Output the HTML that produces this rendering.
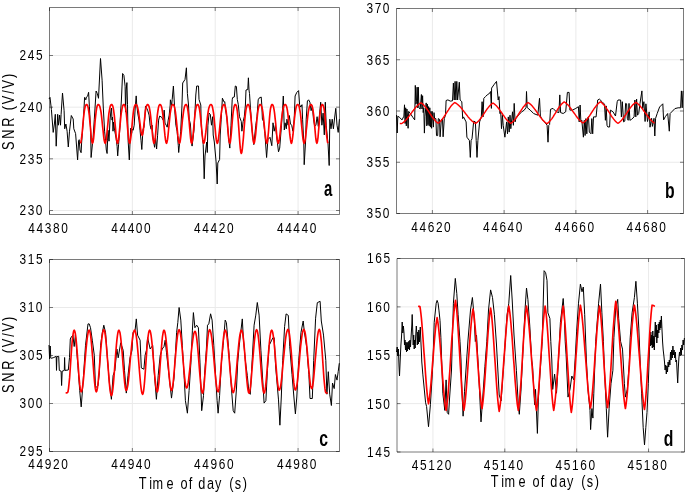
<!DOCTYPE html>
<html><head><meta charset="utf-8"><style>
html,body{margin:0;padding:0;background:#fff;overflow:hidden;width:685px;height:497px;}
svg{display:block;}
text{font-family:"Liberation Sans", sans-serif;fill:#000;}
svg{will-change:transform;}
</style></head><body>
<svg width="685" height="497" viewBox="0 0 685 497">
<rect width="685" height="497" fill="#fff"/>
<path d="M49.50 210.50H339.50M49.50 158.83H339.50M49.50 107.17H339.50M49.50 55.50H339.50M132.36 7.50V214.50M215.21 7.50V214.50M298.07 7.50V214.50" stroke="#eaeaea" stroke-width="1" fill="none"/>
<path d="M396.50 162.25H683.50M396.50 111.00H683.50M396.50 59.75H683.50M432.38 8.50V213.50M504.12 8.50V213.50M575.88 8.50V213.50M647.62 8.50V213.50" stroke="#eaeaea" stroke-width="1" fill="none"/>
<path d="M49.50 403.50H339.50M49.50 355.50H339.50M49.50 307.50H339.50M132.36 259.50V451.50M215.21 259.50V451.50M298.07 259.50V451.50" stroke="#eaeaea" stroke-width="1" fill="none"/>
<path d="M397.00 403.62H684.50M397.00 355.25H684.50M397.00 306.88H684.50M432.94 258.50V452.00M504.81 258.50V452.00M576.69 258.50V452.00M648.56 258.50V452.00" stroke="#eaeaea" stroke-width="1" fill="none"/>
<polyline points="49.0,99.0 50.0,97.4 51.4,109.5 53.2,132.4 54.4,124.0 55.3,114.3 56.2,146.2 57.7,114.3 58.4,125.2 59.6,115.0 60.5,125.2 61.1,114.3 62.5,93.0 64.1,110.7 64.7,128.8 65.9,124.0 67.1,131.2 68.3,147.0 69.5,131.2 71.3,115.5 73.2,119.0 73.8,128.8 75.6,133.6 77.6,159.9 78.6,140.9 79.2,139.7 80.0,150.0 81.1,152.7 81.6,143.0 83.4,119.2 84.6,97.4 85.8,99.8 86.4,97.0 87.6,96.2 88.6,92.3 89.4,106.8 90.7,131.2 91.1,157.5 93.1,137.3 94.3,119.2 96.1,91.0 97.3,93.5 98.5,98.3 100.5,58.5 102.1,80.2 103.3,108.0 104.6,131.2 105.5,140.0 106.3,150.0 107.1,153.5 107.6,140.2 108.0,130.2 109.0,141.2 110.0,120.1 111.0,110.1 111.5,108.0 112.0,120.1 112.5,117.1 113.0,131.2 113.6,122.1 114.6,130.2 116.1,138.2 117.1,146.3 117.7,155.9 118.6,144.3 119.1,138.2 120.1,125.2 120.6,112.1 121.4,100.0 122.6,73.5 123.9,75.4 125.1,86.2 125.6,112.1 126.2,90.0 126.9,82.6 127.5,104.3 128.1,140.2 129.3,159.9 130.2,138.2 130.7,128.2 131.7,133.2 132.2,129.2 133.2,130.2 134.2,125.2 135.2,108.0 136.2,95.9 136.7,104.0 137.7,113.1 139.0,120.1 140.0,130.2 141.0,140.2 141.8,149.5 143.0,129.2 144.0,127.2 145.0,115.1 145.5,106.0 146.6,108.0 147.6,110.1 149.1,115.1 150.1,125.2 151.1,129.2 152.1,125.2 153.1,138.2 154.1,144.3 154.6,147.3 155.6,138.2 156.6,149.0 157.6,135.2 158.6,120.1 159.6,116.1 161.6,117.1 163.2,120.1 164.2,110.1 165.0,123.1 166.2,125.2 167.2,127.2 168.2,120.1 169.2,115.1 170.2,105.0 170.4,99.8 171.6,105.9 172.2,99.4 173.4,86.0 174.7,109.5 175.9,125.2 177.1,131.2 178.3,145.7 178.7,152.5 180.7,131.2 181.9,107.1 182.7,83.0 185.0,79.5 186.4,67.8 187.4,93.5 188.5,105.0 189.2,119.2 190.4,124.0 191.6,143.3 192.1,146.1 194.0,130.0 195.2,107.1 195.8,95.0 196.7,86.0 198.5,86.0 199.0,99.4 200.8,105.0 201.2,125.2 203.2,144.3 204.2,178.8 205.0,156.0 206.7,142.0 207.3,152.5 207.9,125.2 209.1,113.1 210.3,114.3 211.5,125.2 212.7,116.7 213.2,135.0 214.3,142.0 216.1,161.9 217.2,184.0 217.8,163.0 219.6,159.5 220.2,135.0 221.2,119.2 222.4,98.2 224.2,102.2 224.8,101.7 225.4,109.5 226.8,116.7 228.6,138.5 229.8,148.1 231.0,125.2 232.2,99.8 232.6,97.6 234.3,97.0 235.3,86.0 236.4,86.5 237.3,99.4 238.3,104.7 239.5,116.7 241.3,121.6 241.9,131.2 243.1,121.6 244.3,116.7 245.4,105.0 246.0,90.0 247.8,89.5 248.4,77.8 249.0,90.0 249.5,93.5 250.4,107.1 252.2,131.2 253.8,144.6 255.8,125.2 257.0,116.7 258.2,99.8 259.0,98.2 261.2,97.0 261.8,105.0 262.4,119.2 263.6,121.6 264.9,133.6 266.6,157.5 267.9,139.7 270.0,137.3 271.8,145.7 273.0,122.8 274.2,131.2 275.4,125.2 277.2,140.9 278.5,151.8 279.7,148.1 281.5,125.2 282.7,107.1 283.3,96.0 284.3,130.0 285.1,122.8 286.3,128.8 286.9,119.2 288.1,125.2 289.3,115.5 290.5,124.0 291.7,125.2 292.9,131.2 294.2,119.2 295.1,96.0 296.8,92.4 298.6,90.6 299.6,104.7 300.8,107.1 302.0,104.7 302.6,119.2 303.8,143.3 304.2,164.7 305.6,140.9 306.2,119.2 307.4,101.0 308.6,99.8 309.9,102.2 311.1,110.7 312.3,105.9 313.5,119.2 314.7,126.4 315.9,125.2 317.1,116.7 318.3,126.4 319.5,114.3 320.7,102.2 321.9,125.2 323.1,113.1 324.3,134.9 325.3,102.2 326.2,125.2 328.0,143.3 329.2,165.5 329.8,119.2 331.0,128.8 332.2,119.2 333.4,128.8 334.6,118.0 335.8,108.3 337.0,125.2 338.2,132.4 339.4,119.2" stroke="#000" stroke-width="1" fill="none" stroke-linejoin="round"/>
<polyline points="80.4,143.3 80.9,142.2 81.4,139.2 82.0,134.7 82.5,129.2 83.0,123.5 83.5,118.1 84.0,113.4 84.5,109.8 85.0,107.3 85.6,105.6 86.1,104.8 86.6,104.5 87.1,104.8 87.7,105.9 88.2,107.9 88.7,111.0 89.3,115.4 89.8,121.0 90.4,127.1 90.9,133.3 91.4,138.5 92.0,142.1 92.5,143.3 93.0,142.1 93.6,138.5 94.1,133.3 94.6,127.1 95.1,121.0 95.7,115.4 96.2,111.0 96.7,107.9 97.2,105.9 97.8,104.8 98.3,104.5 98.8,104.7 99.4,105.5 99.9,106.8 100.4,108.9 101.0,111.9 101.5,115.8 102.0,120.5 102.5,125.7 103.1,131.0 103.6,135.9 104.1,139.8 104.7,142.4 105.2,143.3 105.7,142.2 106.3,139.2 106.8,134.7 107.3,129.2 107.9,123.5 108.4,118.1 108.9,113.4 109.5,109.8 110.0,107.3 110.5,105.6 111.1,104.8 111.6,104.5 112.1,104.8 112.7,105.9 113.2,107.9 113.7,111.0 114.3,115.4 114.8,121.0 115.4,127.1 115.9,133.3 116.4,138.5 117.0,142.1 117.5,143.3 118.0,142.2 118.6,139.2 119.1,134.7 119.6,129.2 120.2,123.5 120.7,118.1 121.2,113.4 121.8,109.8 122.3,107.3 122.8,105.6 123.4,104.8 123.9,104.5 124.4,104.8 124.9,105.9 125.5,107.9 126.0,111.0 126.5,115.4 127.0,121.0 127.5,127.1 128.0,133.3 128.6,138.5 129.1,142.1 129.6,143.3 130.1,142.2 130.6,139.2 131.2,134.7 131.7,129.2 132.2,123.5 132.7,118.1 133.2,113.4 133.7,109.8 134.2,107.3 134.8,105.6 135.3,104.8 135.8,104.5 136.3,104.7 136.9,105.4 137.4,106.7 137.9,108.7 138.5,111.6 139.0,115.3 139.5,119.6 140.1,124.1 140.6,128.5 141.1,132.1 141.7,134.5 142.2,135.3 142.7,134.1 143.3,130.8 143.8,125.9 144.4,120.5 144.9,115.3 145.4,111.0 146.0,107.8 146.5,105.8 147.1,104.8 147.6,104.5 148.1,104.7 148.6,105.5 149.1,106.8 149.6,108.9 150.1,111.9 150.6,115.8 151.1,120.5 151.6,125.7 152.1,131.0 152.6,135.9 153.1,139.8 153.6,142.4 154.1,143.3 154.6,142.1 155.2,138.5 155.7,133.3 156.2,127.1 156.8,121.0 157.3,115.4 157.9,111.0 158.4,107.9 158.9,105.9 159.5,104.8 160.0,104.5 160.5,104.7 161.0,105.5 161.5,106.8 162.0,108.9 162.5,111.9 163.0,115.8 163.5,120.5 164.0,125.7 164.5,131.0 165.0,135.9 165.5,139.8 166.0,142.4 166.5,143.3 167.0,142.2 167.6,139.2 168.1,134.7 168.6,129.2 169.2,123.5 169.7,118.1 170.2,113.4 170.8,109.8 171.3,107.3 171.8,105.6 172.4,104.8 172.9,104.5 173.4,104.7 173.9,105.5 174.4,106.8 174.9,108.9 175.4,111.9 175.9,115.8 176.4,120.5 176.9,125.7 177.4,131.0 177.9,135.9 178.4,139.8 178.9,142.4 179.4,143.3 179.9,142.4 180.4,139.8 180.9,135.9 181.4,131.0 181.9,125.7 182.4,120.5 183.0,115.8 183.5,111.9 184.0,108.9 184.5,106.8 185.0,105.5 185.5,104.7 186.0,104.5 186.5,104.8 187.0,105.9 187.5,107.9 188.0,111.0 188.5,115.4 189.1,121.0 189.6,127.1 190.1,133.3 190.6,138.5 191.1,142.1 191.6,143.3 192.1,142.2 192.6,139.2 193.1,134.7 193.6,129.2 194.1,123.5 194.6,118.1 195.1,113.4 195.6,109.8 196.1,107.3 196.6,105.6 197.1,104.8 197.6,104.5 198.1,104.8 198.6,105.6 199.1,107.3 199.6,109.8 200.1,113.4 200.6,118.1 201.2,123.5 201.7,129.2 202.2,134.7 202.7,139.2 203.2,142.2 203.7,143.3 204.2,142.5 204.7,140.3 205.2,136.8 205.8,132.4 206.3,127.6 206.8,122.7 207.3,118.1 207.8,114.1 208.3,110.8 208.8,108.2 209.4,106.5 209.9,105.3 210.4,104.7 210.9,104.5 211.4,104.8 212.0,105.6 212.5,107.3 213.0,109.8 213.6,113.4 214.1,118.1 214.6,123.5 215.2,129.2 215.7,134.7 216.2,139.2 216.8,142.2 217.3,143.3 217.8,142.4 218.3,139.8 218.8,135.9 219.4,131.0 219.9,125.7 220.4,120.5 220.9,115.8 221.4,111.9 221.9,108.9 222.5,106.8 223.0,105.5 223.5,104.7 224.0,104.5 224.5,104.8 225.1,105.9 225.6,107.9 226.1,111.0 226.6,115.4 227.2,121.0 227.7,127.1 228.2,133.3 228.7,138.5 229.3,142.1 229.8,143.3 230.3,142.1 230.8,138.5 231.3,133.3 231.8,127.1 232.3,121.0 232.8,115.4 233.3,111.0 233.8,107.9 234.3,105.9 234.8,104.8 235.3,104.5 235.8,104.8 236.3,105.9 236.8,108.0 237.3,111.2 237.8,115.8 238.3,121.7 238.8,128.5 239.3,135.7 239.8,142.6 240.3,148.4 240.8,152.2 241.3,153.5 241.8,152.4 242.3,149.1 242.8,144.1 243.4,137.9 243.9,131.3 244.4,124.7 244.9,118.8 245.4,113.9 245.9,110.1 246.5,107.4 247.0,105.7 247.5,104.8 248.0,104.5 248.5,104.8 249.0,105.6 249.5,107.3 250.0,109.8 250.5,113.4 251.0,118.1 251.5,123.5 252.0,129.2 252.5,134.7 253.0,139.2 253.5,142.2 254.0,143.3 254.5,142.2 255.0,139.2 255.6,134.7 256.1,129.2 256.6,123.5 257.1,118.1 257.6,113.4 258.1,109.8 258.6,107.3 259.2,105.6 259.7,104.8 260.2,104.5 260.7,104.7 261.2,105.5 261.7,106.8 262.3,108.9 262.8,111.9 263.3,115.8 263.8,120.5 264.3,125.7 264.8,131.0 265.4,135.9 265.9,139.8 266.4,142.4 266.9,143.3 267.4,141.8 267.9,137.6 268.5,131.5 269.0,124.6 269.5,118.1 270.0,112.6 270.5,108.7 271.1,106.2 271.6,104.9 272.1,104.5 272.6,104.8 273.1,105.6 273.6,107.3 274.1,109.8 274.6,113.4 275.1,118.1 275.7,123.5 276.2,129.2 276.7,134.7 277.2,139.2 277.7,142.2 278.2,143.3 278.7,142.5 279.2,140.3 279.7,136.8 280.2,132.4 280.7,127.6 281.2,122.7 281.7,118.1 282.2,114.1 282.7,110.8 283.2,108.2 283.7,106.5 284.2,105.3 284.7,104.7 285.2,104.5 285.7,104.8 286.2,105.6 286.8,107.3 287.3,109.8 287.8,113.4 288.3,118.1 288.8,123.5 289.3,129.2 289.8,134.7 290.4,139.2 290.9,142.2 291.4,143.3 291.9,142.2 292.4,139.2 293.0,134.7 293.5,129.2 294.0,123.5 294.5,118.1 295.1,113.4 295.6,109.8 296.1,107.3 296.6,105.6 297.2,104.8 297.7,104.5 298.2,104.8 298.8,105.6 299.3,107.3 299.8,109.8 300.4,113.4 300.9,118.1 301.4,123.5 302.0,129.2 302.5,134.7 303.0,139.2 303.6,142.2 304.1,143.3 304.6,142.4 305.2,139.8 305.7,135.9 306.2,131.0 306.8,125.7 307.3,120.5 307.8,115.8 308.3,111.9 308.9,108.9 309.4,106.8 309.9,105.5 310.5,104.7 311.0,104.5 311.5,104.8 312.1,105.9 312.6,107.9 313.1,111.0 313.7,115.4 314.2,121.0 314.8,127.1 315.3,133.3 315.8,138.5 316.4,142.1 316.9,143.3 317.4,141.8 318.0,137.6 318.5,131.5 319.1,124.6 319.6,118.1 320.1,112.6 320.7,108.7 321.2,106.2 321.8,104.9 322.3,104.5 322.8,104.8 323.3,105.9 323.9,107.9 324.4,111.0 324.9,115.4 325.4,121.0 325.9,127.1 326.4,133.3 327.0,138.5 327.5,142.1 328.0,143.3" stroke="#ff0000" stroke-width="1.65" fill="none" stroke-linejoin="round"/>
<polyline points="396.5,115.0 397.2,133.0 397.8,116.2 399.6,117.4 402.0,119.9 403.9,116.2 404.5,104.8 405.1,123.5 405.7,107.8 406.3,125.9 406.9,109.0 407.5,116.2 408.1,128.3 408.7,111.4 410.5,113.8 412.9,117.4 414.7,119.9 415.3,85.4 415.9,104.2 416.5,101.7 417.1,87.2 417.7,107.8 418.3,87.2 418.9,107.8 420.2,109.0 421.4,94.5 422.0,109.0 422.6,95.7 423.2,112.6 423.8,107.8 424.4,133.1 425.0,116.2 426.2,102.9 426.8,125.9 427.4,104.2 428.0,124.7 428.6,106.6 429.2,125.9 429.8,107.8 430.4,127.1 431.0,111.4 431.6,128.3 432.2,111.4 433.4,127.1 434.0,112.6 434.6,118.6 435.9,118.6 436.5,135.6 437.7,135.6 438.3,118.6 439.5,119.3 440.1,136.8 441.3,119.9 442.5,118.6 443.1,136.8 444.3,118.6 445.5,115.0 446.1,100.5 447.9,99.9 450.3,101.1 452.5,100.8 453.4,83.1 454.2,100.0 455.1,81.4 455.9,100.0 456.8,81.4 457.6,100.0 459.3,82.2 460.1,100.0 461.8,101.7 462.7,118.6 463.5,116.9 466.1,121.9 466.9,137.2 469.4,140.5 470.3,157.4 471.1,140.5 472.0,138.8 473.7,121.1 475.4,121.9 476.2,140.5 477.0,157.4 477.9,140.5 479.6,121.9 481.3,116.9 482.1,101.7 483.0,116.9 483.8,98.3 485.5,96.6 487.2,94.9 489.7,93.2 490.6,91.5 491.4,108.4 491.6,88.1 493.9,84.8 496.5,81.4 498.2,100.0 499.0,96.6 499.9,113.5 500.7,111.8 501.5,128.7 502.4,115.2 503.2,125.3 504.9,137.2 506.6,121.9 507.5,133.8 508.3,116.9 509.2,132.1 510.0,115.2 510.8,128.7 512.5,111.8 513.4,125.3 514.2,103.4 515.1,121.9 515.8,118.6 518.4,115.2 521.8,111.8 524.3,110.1 526.0,107.6 526.5,91.5 527.2,107.6 530.2,110.1 533.6,113.5 537.8,115.2 539.5,98.3 540.4,116.0 542.0,119.4 544.6,121.9 547.1,125.3 548.0,142.2 548.8,125.3 549.6,124.5 550.5,109.3 553.0,108.4 556.4,111.8 558.9,112.6 559.8,94.9 560.6,112.6 563.2,113.5 565.7,111.8 567.4,92.4 569.1,92.4 569.9,110.1 572.5,110.1 575.8,108.4 578.4,106.7 579.2,121.9 580.1,105.0 580.9,121.9 581.8,120.3 583.4,137.2 584.3,120.3 585.1,135.5 585.9,118.6 586.8,133.8 587.6,117.7 588.5,116.9 589.3,132.1 591.0,133.8 591.8,118.6 592.7,133.8 593.5,116.9 596.1,116.9 597.7,100.0 599.4,99.1 602.0,101.7 604.5,104.2 605.4,120.3 606.2,105.9 607.0,125.3 607.9,127.0 609.6,127.0 610.4,110.1 613.0,111.8 615.5,116.0 617.2,101.7 618.0,100.0 620.6,100.0 621.4,116.9 622.3,101.7 623.6,121.9 624.8,121.1 625.6,103.4 626.6,103.8 627.3,118.3 628.2,120.3 629.0,103.4 629.9,120.3 631.5,119.4 634.1,116.9 634.9,100.0 635.8,116.9 636.6,99.1 637.5,115.2 638.7,113.5 640.0,103.4 641.9,90.9 642.7,108.6 643.9,101.7 645.1,121.5 645.9,103.8 647.5,121.5 649.2,111.9 650.0,127.2 651.6,118.3 652.4,126.4 654.0,118.3 654.8,136.0 655.6,118.3 657.2,113.5 659.6,107.0 662.8,103.8 663.6,119.9 665.3,116.7 667.7,113.5 669.3,131.2 670.1,113.5 671.7,111.9 674.9,108.6 678.1,107.8 680.6,107.8 681.4,90.9 682.2,107.8 683.0,90.9" stroke="#000" stroke-width="1" fill="none" stroke-linejoin="round"/>
<polyline points="399.8,123.5 400.4,123.5 400.9,123.6 401.5,123.6 402.0,123.3 402.5,123.0 403.0,122.6 403.5,122.3 404.0,121.9 404.5,121.4 405.0,120.9 405.5,120.4 406.0,119.9 406.5,119.3 407.0,118.8 407.5,118.2 408.0,117.5 408.5,116.9 409.0,116.2 409.5,115.6 410.0,114.9 410.5,114.2 411.0,113.5 411.5,112.9 412.0,112.2 412.5,111.5 413.0,110.8 413.5,110.2 414.0,109.5 414.5,108.9 415.0,108.2 415.5,107.6 416.0,107.1 416.5,106.5 417.0,106.0 417.5,105.5 418.0,105.0 418.5,104.5 419.0,104.1 419.5,103.8 420.0,103.4 420.5,103.1 421.0,102.8 421.5,103.1 422.0,103.5 422.5,103.9 423.0,104.3 423.5,104.8 424.0,105.4 424.5,105.9 425.0,106.5 425.6,107.2 426.1,107.8 426.6,108.5 427.1,109.2 427.6,110.0 428.1,110.7 428.6,111.5 429.1,112.2 429.6,113.0 430.1,113.8 430.6,114.5 431.1,115.3 431.6,116.0 432.1,116.8 432.6,117.5 433.1,118.2 433.6,118.8 434.2,119.5 434.7,120.1 435.2,120.6 435.7,121.2 436.2,121.7 436.7,122.1 437.2,122.5 437.7,122.9 438.2,123.2 438.7,122.9 439.2,122.5 439.7,122.0 440.2,121.6 440.7,121.1 441.2,120.5 441.7,119.9 442.2,119.3 442.7,118.6 443.2,117.9 443.7,117.2 444.2,116.4 444.7,115.6 445.2,114.9 445.7,114.1 446.2,113.3 446.8,112.4 447.3,111.6 447.8,110.8 448.3,110.1 448.8,109.3 449.3,108.5 449.8,107.8 450.3,107.1 450.8,106.4 451.3,105.8 451.8,105.2 452.3,104.6 452.8,104.1 453.3,103.7 453.8,103.2 454.3,102.8 454.8,102.5 455.3,102.8 455.8,103.1 456.3,103.4 456.8,103.8 457.3,104.2 457.8,104.6 458.3,105.0 458.8,105.5 459.3,106.0 459.8,106.5 460.4,107.1 460.9,107.6 461.4,108.2 461.9,108.8 462.4,109.4 462.9,110.1 463.4,110.7 463.9,111.4 464.4,112.0 464.9,112.7 465.4,113.3 465.9,114.0 466.4,114.6 466.9,115.3 467.4,115.9 467.9,116.6 468.4,117.2 468.9,117.8 469.4,118.4 469.9,118.9 470.5,119.5 471.0,120.0 471.5,120.5 472.0,121.0 472.5,121.4 473.0,121.8 473.5,122.2 474.0,122.6 474.5,122.9 475.0,123.2 475.5,123.5 476.0,123.2 476.5,122.8 477.0,122.4 477.5,122.0 478.0,121.5 478.5,121.0 479.0,120.5 479.5,119.9 480.0,119.3 480.5,118.6 481.0,118.0 481.5,117.3 482.0,116.6 482.5,115.9 483.0,115.1 483.5,114.4 484.0,113.6 484.5,112.9 485.0,112.1 485.5,111.4 486.0,110.6 486.5,109.9 487.0,109.2 487.5,108.5 488.0,107.9 488.5,107.2 489.0,106.6 489.5,106.0 490.0,105.5 490.5,105.0 491.0,104.5 491.5,104.1 492.0,103.7 492.5,103.3 493.0,103.0 493.5,103.3 494.0,103.7 494.5,104.1 495.0,104.5 495.5,105.0 496.1,105.5 496.6,106.0 497.1,106.6 497.6,107.2 498.1,107.8 498.6,108.5 499.1,109.2 499.6,109.9 500.1,110.6 500.6,111.3 501.1,112.0 501.6,112.8 502.2,113.5 502.7,114.3 503.2,115.0 503.7,115.7 504.2,116.4 504.7,117.1 505.2,117.8 505.7,118.5 506.2,119.1 506.7,119.7 507.2,120.3 507.7,120.8 508.3,121.3 508.8,121.8 509.3,122.2 509.8,122.6 510.3,123.0 510.8,123.3 511.3,123.0 511.8,122.6 512.3,122.2 512.8,121.7 513.3,121.2 513.8,120.7 514.3,120.1 514.8,119.5 515.4,118.9 515.9,118.2 516.4,117.5 516.9,116.7 517.4,116.0 517.9,115.2 518.4,114.5 518.9,113.7 519.4,112.9 519.9,112.1 520.4,111.3 520.9,110.6 521.4,109.8 521.9,109.1 522.4,108.3 522.9,107.6 523.4,106.9 524.0,106.3 524.5,105.7 525.0,105.1 525.5,104.6 526.0,104.1 526.5,103.6 527.0,103.2 527.5,102.8 528.0,102.5 528.5,102.8 529.0,103.1 529.5,103.5 530.0,103.9 530.5,104.3 531.0,104.8 531.5,105.3 532.0,105.8 532.5,106.4 533.0,107.0 533.5,107.6 534.0,108.2 534.5,108.9 535.0,109.5 535.5,110.2 536.0,110.9 536.5,111.6 537.0,112.3 537.5,113.0 538.0,113.8 538.5,114.5 539.0,115.2 539.5,115.9 540.0,116.6 540.5,117.2 541.0,117.9 541.5,118.5 542.0,119.1 542.5,119.7 543.0,120.3 543.5,120.8 544.0,121.3 544.5,121.8 545.0,122.2 545.5,122.6 546.0,123.0 546.5,123.3 547.0,123.6 547.5,123.3 548.0,122.9 548.5,122.4 549.0,122.0 549.5,121.4 550.0,120.9 550.5,120.3 551.0,119.6 551.6,119.0 552.1,118.3 552.6,117.5 553.1,116.8 553.6,116.0 554.1,115.2 554.6,114.4 555.1,113.6 555.6,112.8 556.1,111.9 556.6,111.1 557.1,110.3 557.6,109.5 558.1,108.7 558.6,108.0 559.1,107.2 559.6,106.5 560.2,105.9 560.7,105.2 561.2,104.6 561.7,104.1 562.2,103.5 562.7,103.1 563.2,102.6 563.7,102.2 564.2,101.9 564.7,102.2 565.2,102.5 565.7,102.9 566.2,103.3 566.7,103.8 567.2,104.3 567.8,104.8 568.3,105.3 568.8,105.9 569.3,106.5 569.8,107.1 570.3,107.8 570.8,108.5 571.3,109.2 571.8,109.9 572.3,110.6 572.8,111.3 573.3,112.0 573.9,112.8 574.4,113.5 574.9,114.2 575.4,114.9 575.9,115.6 576.4,116.3 576.9,117.0 577.4,117.7 577.9,118.3 578.4,118.9 578.9,119.5 579.4,120.0 580.0,120.5 580.5,121.0 581.0,121.5 581.5,121.9 582.0,122.3 582.5,122.6 583.0,122.9 583.5,122.6 584.0,122.2 584.5,121.8 585.0,121.4 585.5,120.9 586.0,120.3 586.5,119.8 587.0,119.2 587.5,118.6 588.0,117.9 588.5,117.2 589.0,116.5 589.5,115.8 590.0,115.0 590.5,114.3 591.0,113.5 591.5,112.7 592.0,112.0 592.5,111.2 593.0,110.4 593.5,109.7 594.0,108.9 594.5,108.2 595.0,107.5 595.5,106.8 596.0,106.1 596.5,105.5 597.0,104.9 597.5,104.4 598.0,103.8 598.5,103.3 599.0,102.9 599.5,102.5 600.0,102.1 600.5,101.8 601.0,102.1 601.5,102.5 602.0,102.9 602.5,103.4 603.0,103.9 603.5,104.4 604.0,105.0 604.5,105.6 605.0,106.2 605.5,106.9 606.0,107.6 606.5,108.3 607.0,109.1 607.5,109.8 608.0,110.6 608.5,111.4 609.0,112.2 609.5,112.9 610.0,113.7 610.5,114.5 611.0,115.3 611.5,116.0 612.0,116.8 612.5,117.5 613.0,118.2 613.5,118.9 614.0,119.5 614.5,120.1 615.0,120.7 615.5,121.2 616.0,121.7 616.5,122.2 617.0,122.6 617.5,123.0 618.0,123.3 618.5,123.0 619.0,122.6 619.5,122.2 620.0,121.8 620.5,121.3 621.1,120.8 621.6,120.2 622.1,119.6 622.6,119.0 623.1,118.3 623.6,117.7 624.1,117.0 624.6,116.2 625.1,115.5 625.6,114.8 626.1,114.0 626.6,113.2 627.2,112.5 627.7,111.7 628.2,110.9 628.7,110.2 629.2,109.5 629.7,108.7 630.2,108.0 630.7,107.4 631.2,106.7 631.7,106.1 632.2,105.5 632.7,104.9 633.3,104.4 633.8,103.9 634.3,103.5 634.8,103.1 635.3,102.7 635.8,102.4 636.3,102.7 636.8,103.0 637.3,103.4 637.8,103.8 638.3,104.3 638.8,104.7 639.4,105.2 639.9,105.8 640.4,106.4 640.9,107.0 641.4,107.6 641.9,108.2 642.4,108.9 642.9,109.6 643.4,110.3 643.9,111.0 644.4,111.7 644.9,112.4 645.5,113.1 646.0,113.8 646.5,114.5 647.0,115.2 647.5,115.9 648.0,116.6 648.5,117.3 649.0,117.9 649.5,118.5 650.0,119.1 650.5,119.7 651.0,120.3 651.6,120.8 652.1,121.2 652.6,121.7 653.1,122.1 653.6,122.5 654.1,122.8 654.6,123.1" stroke="#ff0000" stroke-width="1.45" fill="none" stroke-linejoin="round"/>
<polyline points="49.0,345.0 49.6,359.0 50.2,346.0 50.8,358.0 51.4,358.3 53.8,357.5 56.2,356.3 56.5,370.4 56.9,356.7 58.7,356.3 59.3,370.4 61.1,371.2 61.6,385.5 62.2,371.2 64.3,370.4 64.6,357.5 65.0,370.4 68.3,370.0 69.5,357.5 70.3,339.0 71.5,336.6 72.9,335.2 74.2,346.5 75.4,335.2 77.9,365.4 79.7,390.5 81.2,406.9 83.0,383.0 85.5,345.3 88.0,323.9 89.2,323.9 90.5,327.7 92.3,340.2 94.3,355.3 95.5,388.0 98.0,385.5 99.3,372.9 100.6,345.3 102.3,332.7 103.8,325.2 105.6,332.7 107.4,357.8 109.4,383.0 111.4,399.3 113.1,375.5 114.9,370.4 116.9,349.0 118.2,357.8 120.7,342.8 123.2,350.3 124.5,370.4 126.3,393.1 128.0,375.5 130.0,357.8 132.0,350.3 133.0,332.7 135.1,330.2 136.3,318.9 137.6,335.2 140.1,340.2 141.3,367.9 143.9,369.2 145.1,355.3 146.4,350.3 147.6,337.7 150.2,349.0 152.7,345.3 153.9,367.9 156.4,399.3 158.2,375.5 160.2,355.3 162.2,349.0 164.0,346.5 165.2,340.2 166.5,352.8 169.0,375.5 171.5,398.1 174.0,378.0 176.6,332.7 177.8,322.6 179.1,307.5 180.8,320.1 182.3,345.3 184.1,375.5 185.4,400.6 187.4,413.2 189.1,390.5 190.9,362.9 192.4,330.2 193.4,312.6 194.9,327.7 196.7,325.2 198.4,327.7 200.0,362.9 201.7,410.7 203.5,395.6 204.5,375.5 206.3,350.3 207.5,325.2 208.8,323.9 210.6,313.8 212.1,320.1 213.8,345.3 215.6,375.5 217.1,400.6 218.1,413.2 219.6,395.6 221.4,362.9 223.1,345.3 225.2,320.1 226.4,322.6 227.7,337.7 229.7,362.9 231.4,388.0 233.2,410.7 234.7,413.2 236.5,388.0 237.7,362.9 239.0,347.8 240.7,332.7 242.3,318.9 243.3,337.7 245.3,360.4 247.3,375.5 249.0,393.1 250.3,394.3 252.3,357.8 254.1,325.2 255.8,315.1 257.3,302.5 259.1,315.1 260.9,350.3 262.9,383.0 264.1,403.1 265.9,400.6 267.4,370.4 269.2,345.3 271.7,340.2 272.8,337.9 274.2,337.7 275.6,366.0 278.5,399.9 279.9,425.2 281.3,397.0 282.7,360.4 284.6,326.6 286.1,313.9 288.3,315.4 289.7,346.3 292.0,374.5 293.9,397.0 295.4,413.9 296.8,397.0 298.7,360.4 301.0,332.3 303.2,321.0 304.4,332.3 306.6,346.3 308.9,374.5 310.0,398.5 312.3,398.5 313.7,360.4 315.6,318.2 317.3,302.7 320.1,301.3 321.3,321.0 323.5,335.1 325.8,360.4 326.9,394.2 328.3,371.7 329.7,394.2 331.4,405.5 332.5,383.0 334.2,388.6 335.4,374.5 337.0,380.1 338.2,371.7 339.3,363.2" stroke="#000" stroke-width="1" fill="none" stroke-linejoin="round"/>
<polyline points="65.6,393.0 66.2,392.9 66.9,392.7 67.5,392.6 68.0,391.6 68.5,388.6 69.0,383.9 69.6,377.9 70.1,370.8 70.6,363.3 71.1,355.8 71.6,348.7 72.1,342.4 72.7,337.2 73.2,333.4 73.7,331.0 74.2,330.2 74.7,330.9 75.2,332.9 75.7,336.2 76.2,340.7 76.7,346.1 77.2,352.4 77.7,359.2 78.2,366.1 78.7,372.9 79.2,379.1 79.7,384.4 80.2,388.4 80.7,390.9 81.2,391.8 81.7,391.1 82.2,389.2 82.7,386.0 83.2,381.9 83.7,376.8 84.2,371.2 84.7,365.2 85.2,359.2 85.7,353.2 86.2,347.6 86.7,342.6 87.2,338.3 87.7,334.8 88.2,332.3 88.7,330.7 89.2,330.2 89.7,330.9 90.2,332.9 90.7,336.2 91.2,340.7 91.7,346.1 92.2,352.4 92.8,359.2 93.3,366.1 93.8,372.9 94.3,379.1 94.8,384.4 95.3,388.4 95.8,390.9 96.3,391.8 96.8,391.0 97.3,388.8 97.8,385.2 98.3,380.5 98.8,374.9 99.3,368.7 99.8,362.2 100.3,355.7 100.8,349.5 101.3,343.8 101.8,338.9 102.3,335.0 102.8,332.1 103.3,330.3 103.8,329.7 104.3,330.3 104.8,332.2 105.3,335.3 105.8,339.5 106.3,344.7 106.8,350.7 107.3,357.3 107.9,364.1 108.4,371.0 108.9,377.6 109.4,383.6 109.9,388.6 110.4,392.4 110.9,394.8 111.4,395.6 111.9,394.8 112.4,392.4 112.9,388.7 113.4,383.7 113.9,377.8 114.4,371.2 114.9,364.4 115.4,357.5 115.9,351.0 116.4,345.1 116.9,339.9 117.4,335.8 117.9,332.7 118.4,330.8 118.9,330.2 119.4,330.9 120.0,332.8 120.5,336.1 121.0,340.4 121.5,345.8 122.1,351.9 122.6,358.5 123.1,365.3 123.7,372.0 124.2,378.0 124.7,383.2 125.2,387.2 125.8,389.7 126.3,390.5 126.8,389.9 127.3,387.9 127.9,384.9 128.4,380.8 128.9,375.8 129.4,370.3 129.9,364.5 130.4,358.5 131.0,352.7 131.5,347.3 132.0,342.3 132.5,338.1 133.0,334.7 133.6,332.2 134.1,330.7 134.6,330.2 135.1,330.7 135.6,332.4 136.1,335.0 136.6,338.6 137.1,343.1 137.6,348.3 138.1,354.1 138.6,360.3 139.1,366.7 139.6,372.9 140.1,378.7 140.6,384.0 141.1,388.3 141.6,391.6 142.1,393.6 142.6,394.3 143.1,393.4 143.6,390.8 144.1,386.6 144.6,381.1 145.1,374.6 145.6,367.6 146.1,360.3 146.6,353.3 147.1,346.8 147.6,341.1 148.1,336.4 148.6,333.0 149.1,330.9 149.6,330.2 150.1,330.8 150.6,332.6 151.1,335.4 151.6,339.4 152.1,344.2 152.6,349.8 153.1,356.0 153.7,362.4 154.2,368.8 154.7,375.0 155.2,380.6 155.7,385.3 156.2,388.8 156.7,391.0 157.2,391.8 157.7,390.8 158.2,387.9 158.8,383.2 159.3,377.2 159.8,370.3 160.3,362.9 160.9,355.5 161.4,348.5 161.9,342.3 162.4,337.1 163.0,333.3 163.5,331.0 164.0,330.2 164.5,330.8 165.0,332.5 165.5,335.3 166.0,339.2 166.5,343.9 167.0,349.4 167.5,355.4 168.0,361.7 168.5,368.0 169.0,374.1 169.5,379.5 170.0,384.1 170.5,387.6 171.0,389.8 171.5,390.5 172.0,389.8 172.5,387.6 173.0,384.1 173.5,379.4 174.0,373.9 174.5,367.8 175.0,361.5 175.6,355.1 176.1,349.1 176.6,343.5 177.1,338.8 177.6,334.9 178.1,332.0 178.6,330.3 179.1,329.7 179.6,330.3 180.1,331.9 180.6,334.7 181.1,338.4 181.6,343.0 182.1,348.3 182.6,354.1 183.1,360.2 183.6,366.3 184.1,372.1 184.6,377.4 185.1,381.8 185.6,385.2 186.1,387.3 186.6,388.0 187.1,387.4 187.7,385.6 188.2,382.7 188.7,378.9 189.2,374.2 189.8,369.1 190.3,363.6 190.8,358.0 191.3,352.5 191.8,347.4 192.4,342.8 192.9,338.8 193.4,335.6 193.9,333.3 194.5,331.9 195.0,331.4 195.5,332.0 196.0,333.8 196.5,336.7 197.0,340.6 197.5,345.4 198.0,351.0 198.5,357.2 199.0,363.6 199.5,370.1 200.0,376.3 200.5,381.9 201.0,386.6 201.5,390.1 202.0,392.3 202.5,393.1 203.0,392.2 203.5,389.6 204.0,385.4 204.5,380.0 205.0,373.6 205.5,366.6 206.1,359.5 206.6,352.5 207.1,346.1 207.6,340.5 208.1,335.9 208.6,332.5 209.1,330.4 209.6,329.7 210.1,330.2 210.6,331.6 211.1,333.8 211.6,337.0 212.1,340.9 212.6,345.4 213.1,350.5 213.6,356.0 214.1,361.8 214.6,367.5 215.1,373.1 215.6,378.3 216.1,382.9 216.6,386.6 217.1,389.5 217.6,391.2 218.1,391.8 218.6,390.9 219.1,388.4 219.6,384.4 220.1,379.1 220.6,372.9 221.1,366.1 221.6,359.2 222.2,352.4 222.7,346.1 223.2,340.7 223.7,336.2 224.2,332.9 224.7,330.9 225.2,330.2 225.7,330.7 226.2,332.3 226.7,334.9 227.2,338.4 227.7,342.8 228.2,347.9 228.7,353.5 229.2,359.5 229.7,365.7 230.2,371.7 230.7,377.4 231.2,382.5 231.7,386.8 232.2,390.0 232.7,391.9 233.2,392.6 233.7,391.9 234.2,390.0 234.8,386.8 235.3,382.5 235.8,377.4 236.3,371.7 236.8,365.7 237.3,359.5 237.9,353.5 238.4,347.9 238.9,342.8 239.4,338.4 239.9,334.9 240.5,332.3 241.0,330.7 241.5,330.2 242.0,330.8 242.5,332.6 243.0,335.6 243.5,339.6 244.0,344.5 244.5,350.2 245.0,356.5 245.5,363.1 246.0,369.7 246.5,376.0 247.0,381.7 247.5,386.4 248.0,390.1 248.5,392.3 249.0,393.1 249.5,392.3 250.0,390.0 250.5,386.4 251.0,381.6 251.5,375.8 252.0,369.5 252.5,362.8 253.1,356.2 253.6,349.9 254.1,344.1 254.6,339.1 255.1,335.1 255.6,332.1 256.1,330.3 256.6,329.7 257.1,330.3 257.6,332.1 258.1,335.1 258.6,339.1 259.1,344.1 259.6,349.9 260.1,356.2 260.6,362.8 261.1,369.5 261.6,375.8 262.1,381.6 262.6,386.4 263.1,390.0 263.6,392.3 264.1,393.1 264.6,392.3 265.1,390.1 265.6,386.4 266.1,381.7 266.6,376.0 267.1,369.7 267.6,363.1 268.2,356.5 268.7,350.2 269.2,344.5 269.7,339.6 270.2,335.6 270.7,332.6 271.2,330.8 271.7,330.2 272.2,330.8 272.7,332.5 273.2,335.3 273.7,339.1 274.2,343.8 274.7,349.3 275.2,355.3 275.7,361.6 276.2,367.8 276.7,373.8 277.2,379.3 277.7,383.8 278.2,387.3 278.7,389.5 279.2,390.2 279.7,389.6 280.2,387.9 280.8,385.1 281.3,381.4 281.8,377.0 282.3,371.9 282.8,366.4 283.3,360.8 283.9,355.2 284.4,349.8 284.9,344.8 285.4,340.3 285.9,336.5 286.4,333.4 287.0,331.2 287.5,329.9 288.0,329.4 288.5,330.1 289.1,332.1 289.6,335.3 290.1,339.7 290.6,345.1 291.2,351.2 291.7,357.9 292.2,364.7 292.8,371.4 293.3,377.5 293.8,382.7 294.3,386.7 294.9,389.2 295.4,390.0 295.9,389.3 296.4,387.4 297.0,384.3 297.5,380.2 298.0,375.3 298.6,369.7 299.1,363.9 299.6,357.9 300.1,352.0 300.6,346.6 301.2,341.6 301.7,337.4 302.2,333.9 302.8,331.4 303.3,329.9 303.8,329.4 304.3,330.0 304.9,331.7 305.4,334.4 305.9,338.2 306.4,342.9 307.0,348.2 307.5,354.1 308.0,360.3 308.5,366.5 309.1,372.5 309.6,377.8 310.1,382.3 310.6,385.7 311.2,387.9 311.7,388.6 312.2,387.9 312.7,385.7 313.2,382.3 313.7,377.8 314.2,372.5 314.7,366.5 315.2,360.3 315.8,354.1 316.3,348.2 316.8,342.9 317.3,338.2 317.8,334.4 318.3,331.7 318.8,330.0 319.3,329.4 319.8,330.2 320.3,332.6 320.8,336.6 321.4,341.8 321.9,348.3 322.4,355.5 322.9,363.2 323.4,370.8 323.9,378.0 324.5,384.2 325.0,388.9 325.5,392.0 326.0,393.0 326.6,393.0 327.1,393.0 327.7,393.0" stroke="#ff0000" stroke-width="1.65" fill="none" stroke-linejoin="round"/>
<polyline points="396.5,352.0 397.2,347.0 397.8,356.0 398.4,349.0 399.0,366.0 399.5,376.0 400.2,360.0 400.9,345.0 401.5,337.0 402.2,322.0 402.8,333.0 403.4,326.0 404.0,333.0 404.5,345.0 405.0,340.0 405.5,350.0 406.0,342.0 406.5,352.0 407.0,343.0 407.5,351.0 408.0,342.0 408.5,349.0 409.0,341.0 409.5,350.0 410.0,340.0 410.5,347.0 411.2,335.0 411.8,325.0 412.2,314.5 412.7,330.0 413.2,345.0 413.7,335.0 414.2,349.0 414.7,340.0 415.2,348.0 415.7,336.0 416.3,326.0 416.8,333.0 417.3,345.0 417.8,332.0 418.3,344.0 418.8,330.0 419.3,342.0 419.8,334.0 420.3,327.0 420.8,340.0 421.3,350.0 421.8,362.0 422.8,374.1 425.6,402.8 426.6,406.6 428.5,426.7 430.4,404.7 432.3,374.1 433.2,355.0 434.2,322.4 436.2,303.2 437.1,300.4 438.1,303.2 439.0,310.9 440.0,320.4 440.9,337.7 442.8,393.2 444.8,410.4 446.1,379.9 447.2,412.4 448.6,414.3 449.5,399.0 451.5,370.0 453.4,303.2 455.3,278.4 456.8,293.7 458.1,314.7 460.0,341.5 461.0,360.0 462.0,393.2 463.1,416.2 464.5,391.3 468.0,340.0 470.5,310.0 472.4,297.5 474.0,315.0 475.3,341.5 476.5,335.0 478.5,370.0 481.0,421.9 482.0,408.0 484.9,366.5 486.8,341.5 488.5,310.0 490.6,289.9 492.5,297.5 494.4,314.7 496.5,345.0 499.2,395.0 501.1,400.9 503.0,374.1 505.0,345.0 507.0,315.0 508.8,303.2 510.7,275.5 512.2,300.0 514.0,335.0 516.4,370.3 518.3,405.0 519.3,414.3 521.0,390.0 523.0,350.0 525.0,310.0 526.5,288.0 527.9,299.4 529.8,326.2 531.7,360.0 532.6,366.5 534.6,404.7 535.5,389.4 537.4,433.4 538.4,399.0 539.3,383.7 541.3,355.0 542.2,341.5 544.1,270.7 545.6,272.6 547.0,280.3 547.9,312.8 549.9,318.5 550.8,341.5 551.8,360.0 552.7,389.4 554.6,374.1 556.5,393.2 558.5,360.0 560.4,322.4 563.2,298.5 564.2,312.8 565.2,341.5 566.1,354.9 568.0,397.1 570.0,389.4 571.8,376.0 573.8,379.9 575.1,360.0 576.6,331.9 578.5,303.2 580.4,284.1 582.0,291.8 583.3,287.0 584.7,314.7 586.4,360.0 588.0,390.0 590.0,410.4 590.6,429.6 591.9,408.5 592.9,418.1 593.8,393.2 595.7,341.5 598.6,303.2 600.5,284.1 601.9,312.8 603.4,341.5 604.3,366.5 606.3,408.5 607.6,437.2 609.1,408.5 611.0,383.7 612.9,370.3 613.9,337.7 615.8,307.1 617.7,299.4 618.7,318.5 620.6,341.5 622.5,349.1 624.4,383.7 625.4,397.1 627.3,389.4 629.2,364.6 630.2,337.7 632.1,312.8 634.4,297.5 635.9,281.3 637.4,303.2 638.8,328.1 640.1,360.0 641.6,393.2 643.2,427.7 644.5,444.9 645.8,427.7 647.0,412.4 648.3,383.7 649.3,355.0 649.8,338.0 650.3,346.0 650.8,332.0 651.3,345.0 651.8,335.0 652.3,348.0 652.8,331.0 653.3,347.0 653.8,336.0 654.3,350.0 654.8,333.0 655.3,322.0 655.8,337.0 656.3,325.0 656.8,343.0 657.3,330.0 657.8,338.0 658.3,324.0 658.8,333.0 659.3,322.0 659.8,330.0 660.3,320.0 660.8,328.0 661.4,316.0 662.0,330.0 662.6,342.0 663.2,350.0 663.9,356.0 664.5,362.0 665.1,370.0 665.7,365.0 666.3,374.0 666.9,366.0 667.5,372.0 668.1,362.0 668.7,367.0 669.3,360.0 669.9,365.0 670.5,352.0 671.1,360.0 671.7,350.0 672.3,358.0 672.9,346.0 673.5,355.0 674.1,350.0 674.7,358.0 675.3,352.0 675.9,362.0 676.5,360.0 677.1,372.0 677.7,383.0 678.3,368.0 678.9,358.0 679.5,352.0 680.1,356.0 680.7,348.0 681.3,355.0 681.9,345.0 682.5,350.0 683.1,340.0 683.7,345.0 684.4,338.0" stroke="#000" stroke-width="1" fill="none" stroke-linejoin="round"/>
<polyline points="418.1,306.3 418.7,306.4 419.3,306.4 419.9,306.5 420.4,309.5 420.9,313.5 421.4,318.2 421.9,323.8 422.4,330.0 422.9,336.8 423.4,344.0 423.9,351.4 424.5,358.9 425.0,366.3 425.5,373.5 426.0,380.3 426.5,386.5 427.0,392.1 427.5,396.8 428.0,400.8 428.5,403.8 429.0,401.1 429.5,397.6 430.0,393.4 430.5,388.5 431.0,383.0 431.5,377.0 432.0,370.6 432.5,364.0 433.1,357.4 433.6,350.8 434.1,344.4 434.6,338.4 435.1,332.9 435.6,328.0 436.1,323.8 436.6,320.3 437.1,317.6 437.6,320.3 438.1,323.8 438.6,328.0 439.1,332.9 439.6,338.3 440.1,344.3 440.6,350.6 441.1,357.2 441.6,364.0 442.1,370.8 442.6,377.4 443.1,383.7 443.6,389.7 444.1,395.1 444.6,400.0 445.1,404.2 445.6,407.7 446.1,410.4 446.6,407.2 447.1,403.1 447.7,398.1 448.2,392.3 448.7,385.8 449.2,378.8 449.8,371.2 450.3,363.4 450.8,355.4 451.3,347.4 451.8,339.6 452.4,332.0 452.9,325.0 453.4,318.5 453.9,312.7 454.5,307.7 455.0,303.6 455.5,300.4 456.0,304.1 456.6,308.9 457.1,314.8 457.6,321.6 458.1,329.3 458.6,337.6 459.2,346.4 459.7,355.4 460.2,364.4 460.8,373.2 461.3,381.5 461.8,389.2 462.3,396.0 462.8,401.9 463.4,406.7 463.9,410.4 464.4,407.4 464.9,403.6 465.4,399.1 465.9,393.7 466.4,387.8 466.9,381.2 467.4,374.3 467.9,367.1 468.4,359.7 469.0,352.3 469.5,345.1 470.0,338.2 470.5,331.6 471.0,325.7 471.5,320.3 472.0,315.8 472.5,312.0 473.0,309.0 473.5,311.9 474.0,315.6 474.5,320.1 475.0,325.4 475.5,331.2 476.0,337.6 476.5,344.4 477.0,351.5 477.5,358.8 478.0,366.0 478.5,373.1 479.0,379.9 479.5,386.3 480.0,392.1 480.5,397.4 481.0,401.9 481.5,405.6 482.0,408.5 482.5,405.4 483.0,401.3 483.5,396.4 484.0,390.6 484.5,384.2 485.0,377.2 485.5,369.8 486.0,362.1 486.6,354.4 487.1,346.7 487.6,339.3 488.1,332.3 488.6,325.9 489.1,320.1 489.6,315.2 490.1,311.1 490.6,308.0 491.1,311.2 491.6,315.4 492.1,320.5 492.6,326.4 493.1,333.0 493.6,340.2 494.1,347.8 494.6,355.7 495.2,363.7 495.7,371.6 496.2,379.2 496.7,386.4 497.2,393.0 497.7,398.9 498.2,404.0 498.7,408.2 499.2,411.4 499.7,408.5 500.2,404.8 500.7,400.4 501.2,395.3 501.7,389.6 502.2,383.3 502.7,376.6 503.2,369.6 503.7,362.4 504.3,355.1 504.8,347.9 505.3,340.9 505.8,334.2 506.3,327.9 506.8,322.2 507.3,317.1 507.8,312.7 508.3,309.0 508.8,306.1 509.3,309.1 509.9,313.0 510.4,317.8 510.9,323.2 511.4,329.4 512.0,336.1 512.5,343.2 513.0,350.7 513.5,358.2 514.1,365.8 514.6,373.3 515.1,380.4 515.7,387.1 516.2,393.3 516.7,398.7 517.2,403.5 517.8,407.4 518.3,410.4 518.8,406.9 519.3,402.3 519.8,396.8 520.3,390.3 520.9,383.0 521.4,375.1 521.9,366.8 522.4,358.2 522.9,349.7 523.4,341.4 523.9,333.5 524.5,326.2 525.0,319.7 525.5,314.2 526.0,309.6 526.5,306.1 527.0,308.8 527.5,312.2 528.0,316.3 528.5,321.0 529.0,326.2 529.5,332.0 530.0,338.2 530.5,344.7 531.0,351.4 531.5,358.2 532.0,365.1 532.5,371.8 533.0,378.3 533.5,384.5 534.0,390.3 534.5,395.5 535.0,400.2 535.5,404.3 536.0,407.7 536.5,410.4 537.0,407.2 537.5,402.9 538.0,397.8 538.5,391.9 539.0,385.2 539.5,377.9 540.0,370.2 540.5,362.3 541.1,354.2 541.6,346.3 542.1,338.6 542.6,331.3 543.1,324.6 543.6,318.7 544.1,313.6 544.6,309.3 545.1,306.1 545.6,309.3 546.1,313.6 546.6,318.7 547.1,324.6 547.6,331.3 548.1,338.6 548.6,346.3 549.1,354.2 549.7,362.3 550.2,370.2 550.7,377.9 551.2,385.2 551.7,391.9 552.2,397.8 552.7,402.9 553.2,407.2 553.7,410.4 554.2,407.5 554.7,403.9 555.2,399.5 555.7,394.5 556.2,388.8 556.7,382.6 557.2,375.9 557.7,369.0 558.2,361.9 558.7,354.6 559.2,347.5 559.7,340.6 560.2,333.9 560.7,327.7 561.2,322.0 561.7,317.0 562.2,312.6 562.7,309.0 563.2,306.1 563.7,309.7 564.2,314.3 564.7,320.0 565.2,326.6 565.7,334.0 566.2,342.1 566.7,350.6 567.2,359.2 567.8,367.9 568.3,376.4 568.8,384.5 569.3,391.9 569.8,398.5 570.3,404.2 570.8,408.8 571.3,412.4 571.8,409.3 572.3,405.3 572.8,400.4 573.3,394.8 573.8,388.5 574.3,381.6 574.8,374.2 575.3,366.6 575.8,358.8 576.4,351.0 576.9,343.4 577.4,336.0 577.9,329.1 578.4,322.8 578.9,317.2 579.4,312.3 579.9,308.3 580.4,305.2 580.9,307.9 581.4,311.2 581.9,315.2 582.4,319.9 582.9,325.0 583.4,330.7 583.9,336.8 584.4,343.2 584.9,349.9 585.5,356.6 586.0,363.3 586.5,370.0 587.0,376.4 587.5,382.5 588.0,388.2 588.5,393.3 589.0,398.0 589.5,402.0 590.0,405.3 590.5,408.0 591.0,405.0 591.5,401.2 592.0,396.6 592.5,391.3 593.0,385.3 593.5,378.7 594.0,371.7 594.5,364.5 595.0,357.1 595.6,349.6 596.1,342.4 596.6,335.4 597.1,328.8 597.6,322.8 598.1,317.5 598.6,312.9 599.1,309.1 599.6,306.1 600.1,309.5 600.6,313.9 601.1,319.4 601.6,325.7 602.1,332.8 602.6,340.5 603.1,348.5 603.6,356.9 604.1,365.2 604.6,373.2 605.1,380.9 605.6,388.0 606.1,394.3 606.6,399.8 607.1,404.2 607.6,407.6 608.1,404.0 608.6,399.4 609.1,393.7 609.6,387.1 610.2,379.7 610.7,371.6 611.2,363.1 611.7,354.5 612.2,345.8 612.7,337.3 613.2,329.2 613.8,321.8 614.3,315.2 614.8,309.5 615.3,304.9 615.8,301.3 616.3,304.2 616.8,308.0 617.3,312.5 617.8,317.7 618.3,323.5 618.8,329.9 619.3,336.7 619.8,343.9 620.3,351.2 620.9,358.6 621.4,365.9 621.9,373.1 622.4,379.9 622.9,386.3 623.4,392.1 623.9,397.3 624.4,401.8 624.9,405.6 625.4,408.5 625.9,405.5 626.4,401.6 626.9,396.9 627.4,391.5 627.9,385.4 628.4,378.8 628.9,371.7 629.4,364.4 629.9,356.9 630.4,349.3 630.9,342.0 631.4,334.9 631.9,328.3 632.4,322.2 632.9,316.8 633.4,312.1 633.9,308.2 634.4,305.2 634.9,307.9 635.4,311.3 635.9,315.4 636.4,320.1 636.9,325.3 637.4,331.1 637.9,337.3 638.4,343.8 638.9,350.5 639.5,357.4 640.0,364.2 640.5,370.9 641.0,377.4 641.5,383.6 642.0,389.4 642.5,394.6 643.0,399.3 643.5,403.4 644.0,406.8 644.5,409.5 645.0,405.7 645.5,400.8 646.0,394.6 646.5,387.5 647.0,379.5 647.5,370.9 648.0,361.9 648.6,352.8 649.1,343.8 649.6,335.2 650.1,327.2 650.6,320.1 651.1,313.9 651.6,309.0 652.1,305.2 652.7,305.3 653.3,305.5 653.8,305.8 654.4,306.0 655.0,306.1" stroke="#ff0000" stroke-width="1.65" fill="none" stroke-linejoin="round"/>
<path d="M49.50 7.50H339.50V214.50H49.50Z" stroke="#000" stroke-opacity="0.52" stroke-width="1" fill="none"/><path d="M49.50 210.50h3.5M339.50 210.50h-3.5M49.50 158.83h3.5M339.50 158.83h-3.5M49.50 107.17h3.5M339.50 107.17h-3.5M49.50 55.50h3.5M339.50 55.50h-3.5M49.50 214.50v-3.5M49.50 7.50v3.5M132.36 214.50v-3.5M132.36 7.50v3.5M215.21 214.50v-3.5M215.21 7.50v3.5M298.07 214.50v-3.5M298.07 7.50v3.5" stroke="#000" stroke-opacity="0.5" stroke-width="1" fill="none"/>
<path d="M396.50 8.50H683.50V213.50H396.50Z" stroke="#000" stroke-opacity="0.52" stroke-width="1" fill="none"/><path d="M396.50 213.50h3.5M683.50 213.50h-3.5M396.50 162.25h3.5M683.50 162.25h-3.5M396.50 111.00h3.5M683.50 111.00h-3.5M396.50 59.75h3.5M683.50 59.75h-3.5M396.50 8.50h3.5M683.50 8.50h-3.5M432.38 213.50v-3.5M432.38 8.50v3.5M504.12 213.50v-3.5M504.12 8.50v3.5M575.88 213.50v-3.5M575.88 8.50v3.5M647.62 213.50v-3.5M647.62 8.50v3.5" stroke="#000" stroke-opacity="0.5" stroke-width="1" fill="none"/>
<path d="M49.50 259.50H339.50V451.50H49.50Z" stroke="#000" stroke-opacity="0.52" stroke-width="1" fill="none"/><path d="M49.50 451.50h3.5M339.50 451.50h-3.5M49.50 403.50h3.5M339.50 403.50h-3.5M49.50 355.50h3.5M339.50 355.50h-3.5M49.50 307.50h3.5M339.50 307.50h-3.5M49.50 259.50h3.5M339.50 259.50h-3.5M49.50 451.50v-3.5M49.50 259.50v3.5M132.36 451.50v-3.5M132.36 259.50v3.5M215.21 451.50v-3.5M215.21 259.50v3.5M298.07 451.50v-3.5M298.07 259.50v3.5" stroke="#000" stroke-opacity="0.5" stroke-width="1" fill="none"/>
<path d="M397.00 258.50H684.50V452.00H397.00Z" stroke="#000" stroke-opacity="0.52" stroke-width="1" fill="none"/><path d="M397.00 452.00h3.5M684.50 452.00h-3.5M397.00 403.62h3.5M684.50 403.62h-3.5M397.00 355.25h3.5M684.50 355.25h-3.5M397.00 306.88h3.5M684.50 306.88h-3.5M397.00 258.50h3.5M684.50 258.50h-3.5M432.94 452.00v-3.5M432.94 258.50v3.5M504.81 452.00v-3.5M504.81 258.50v3.5M576.69 452.00v-3.5M576.69 258.50v3.5M648.56 452.00v-3.5M648.56 258.50v3.5" stroke="#000" stroke-opacity="0.5" stroke-width="1" fill="none"/>
<text transform="scale(0.82 1)" x="23.69 33.71 43.72" y="215.50" font-size="14.5">230</text>
<text transform="scale(0.82 1)" x="23.73 33.75 43.76" y="163.83" font-size="14.5">235</text>
<text transform="scale(0.82 1)" x="23.69 33.71 43.72" y="112.17" font-size="14.5">240</text>
<text transform="scale(0.82 1)" x="23.73 33.75 43.76" y="60.50" font-size="14.5">245</text>
<text transform="scale(0.82 1)" x="34.59 44.61 54.62 64.64 74.65" y="233.00" font-size="14.5">44380</text>
<text transform="scale(0.82 1)" x="135.64 145.65 155.67 165.68 175.70" y="233.00" font-size="14.5">44400</text>
<text transform="scale(0.82 1)" x="236.68 246.70 256.71 266.73 276.74" y="233.00" font-size="14.5">44420</text>
<text transform="scale(0.82 1)" x="337.73 347.74 357.76 367.77 377.79" y="233.00" font-size="14.5">44440</text>
<text transform="scale(0.82 1)" x="446.86 456.88 466.89" y="218.50" font-size="14.5">350</text>
<text transform="scale(0.82 1)" x="446.90 456.92 466.93" y="167.25" font-size="14.5">355</text>
<text transform="scale(0.82 1)" x="446.86 456.88 466.89" y="116.00" font-size="14.5">360</text>
<text transform="scale(0.82 1)" x="446.90 456.92 466.93" y="64.75" font-size="14.5">365</text>
<text transform="scale(0.82 1)" x="446.86 456.88 466.89" y="13.50" font-size="14.5">370</text>
<text transform="scale(0.82 1)" x="501.51 511.53 521.54 531.56 541.57" y="231.60" font-size="14.5">44620</text>
<text transform="scale(0.82 1)" x="589.01 599.03 609.04 619.06 629.07" y="231.60" font-size="14.5">44640</text>
<text transform="scale(0.82 1)" x="676.51 686.53 696.54 706.56 716.57" y="231.60" font-size="14.5">44660</text>
<text transform="scale(0.82 1)" x="764.01 774.03 784.04 794.06 804.07" y="231.60" font-size="14.5">44680</text>
<text transform="scale(0.82 1)" x="23.73 33.75 43.76" y="456.50" font-size="14.5">295</text>
<text transform="scale(0.82 1)" x="23.69 33.71 43.72" y="408.50" font-size="14.5">300</text>
<text transform="scale(0.82 1)" x="23.73 33.75 43.76" y="360.50" font-size="14.5">305</text>
<text transform="scale(0.82 1)" x="23.69 33.71 43.72" y="312.50" font-size="14.5">310</text>
<text transform="scale(0.82 1)" x="23.73 33.75 43.76" y="264.50" font-size="14.5">315</text>
<text transform="scale(0.82 1)" x="34.59 44.61 54.62 64.64 74.65" y="469.40" font-size="14.5">44920</text>
<text transform="scale(0.82 1)" x="135.64 145.65 155.67 165.68 175.70" y="469.40" font-size="14.5">44940</text>
<text transform="scale(0.82 1)" x="236.68 246.70 256.71 266.73 276.74" y="469.40" font-size="14.5">44960</text>
<text transform="scale(0.82 1)" x="337.73 347.74 357.76 367.77 377.79" y="469.40" font-size="14.5">44980</text>
<text transform="scale(0.82 1)" x="447.51 457.53 467.54" y="457.00" font-size="14.5">145</text>
<text transform="scale(0.82 1)" x="447.47 457.49 467.50" y="408.62" font-size="14.5">150</text>
<text transform="scale(0.82 1)" x="447.51 457.53 467.54" y="360.25" font-size="14.5">155</text>
<text transform="scale(0.82 1)" x="447.47 457.49 467.50" y="311.88" font-size="14.5">160</text>
<text transform="scale(0.82 1)" x="447.51 457.53 467.54" y="263.50" font-size="14.5">165</text>
<text transform="scale(0.82 1)" x="502.20 512.21 522.23 532.24 542.26" y="469.90" font-size="14.5">45120</text>
<text transform="scale(0.82 1)" x="589.85 599.87 609.88 619.90 629.91" y="469.90" font-size="14.5">45140</text>
<text transform="scale(0.82 1)" x="677.50 687.52 697.53 707.55 717.56" y="469.90" font-size="14.5">45160</text>
<text transform="scale(0.82 1)" x="765.15 775.17 785.19 795.20 805.22" y="469.90" font-size="14.5">45180</text>
<text transform="scale(0.7 1)" x="462.95" y="195.90" font-size="21.3" font-weight="bold">a</text>
<text transform="scale(0.74 1)" x="898.60" y="197.80" font-size="21.3" font-weight="bold">b</text>
<text transform="scale(0.74 1)" x="431.33" y="445.90" font-size="21.3" font-weight="bold">c</text>
<text transform="scale(0.74 1)" x="896.96" y="446.10" font-size="21.3" font-weight="bold">d</text>
<text transform="translate(14.00 149.40) rotate(-90) scale(0.78 1)" x="-0.74 13.79 28.92 50.14 57.75 71.28 78.01 91.44" y="0" font-size="16.3">SNR(V/V)</text>
<text transform="translate(14.00 392.40) rotate(-90) scale(0.78 1)" x="-0.74 13.79 28.92 50.14 57.75 71.28 78.01 91.44" y="0" font-size="16.3">SNR(V/V)</text>
<text transform="scale(0.78 1)" x="177.84 191.22 195.46 213.41 231.37 241.95 254.32 265.33 275.73 293.99 300.96 311.19" y="488.70" font-size="16.3">Timeofday(s)</text>
<text transform="scale(0.78 1)" x="629.12 642.50 646.74 664.69 682.65 693.23 705.60 716.62 727.01 745.27 752.24 762.47" y="486.90" font-size="16.3">Timeofday(s)</text>
</svg>
</body></html>
